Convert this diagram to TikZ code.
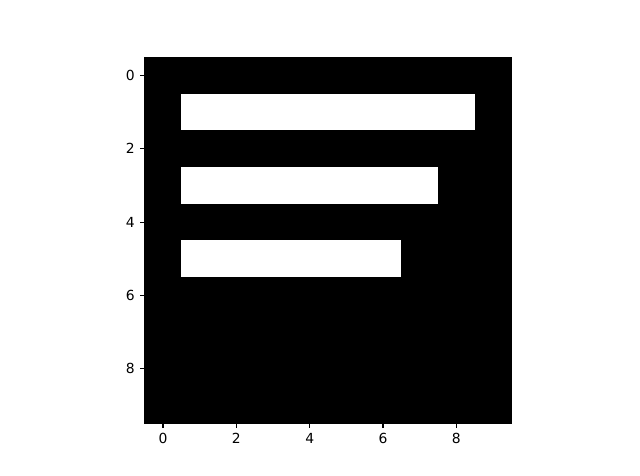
\documentclass[tikz,border=0pt]{standalone}
\usepackage{fontspec}
\setmainfont{DejaVu Sans}
\begin{document}
\begin{tikzpicture}[x=0.72pt,y=-0.72pt,
  ticklab/.style={font=\fontsize{10pt}{12pt}\selectfont,inner sep=0pt,text=black},
  tickmark/.style={line width=0.8pt,black},
  bar/.style={fill=white,draw=none}]
\useasboundingbox[fill=white] (0,0) rectangle (640,476);
% axes area: x from 144.7 to 511.3, y from 57.1 to 423.6 ; cell 36.66 px
\def\L{144.7}\def\T{57.1}\def\C{36.66}
\fill[black] (\L,\T) rectangle (511.3,423.6);
% white bars (rows 1,3,5)
\fill[bar] (\L+1*\C,\T+1*\C) rectangle (\L+9*\C,\T+2*\C);
\fill[bar] (\L+1*\C,\T+3*\C) rectangle (\L+8*\C,\T+4*\C);
\fill[bar] (\L+1*\C,\T+5*\C) rectangle (\L+7*\C,\T+6*\C);
% spines
\draw[line width=0.8pt,black] (\L,\T) rectangle (511.3,423.6);
% ticks
\foreach \v in {0,2,4,6,8}{
  \draw[tickmark] (\L+\v*\C+0.5*\C,423.6) -- ++(0,4.86);
  \node[ticklab,anchor=north] (xl\v) at (\L+\v*\C+0.5*\C,433.3) {\v};
  \draw[tickmark] (\L,\T+\v*\C+0.5*\C) -- ++(-4.86,0);
  \node[ticklab,anchor=east] (yl\v) at (135,\T+\v*\C+0.5*\C) {\v};
}
\end{tikzpicture}
\end{document}
